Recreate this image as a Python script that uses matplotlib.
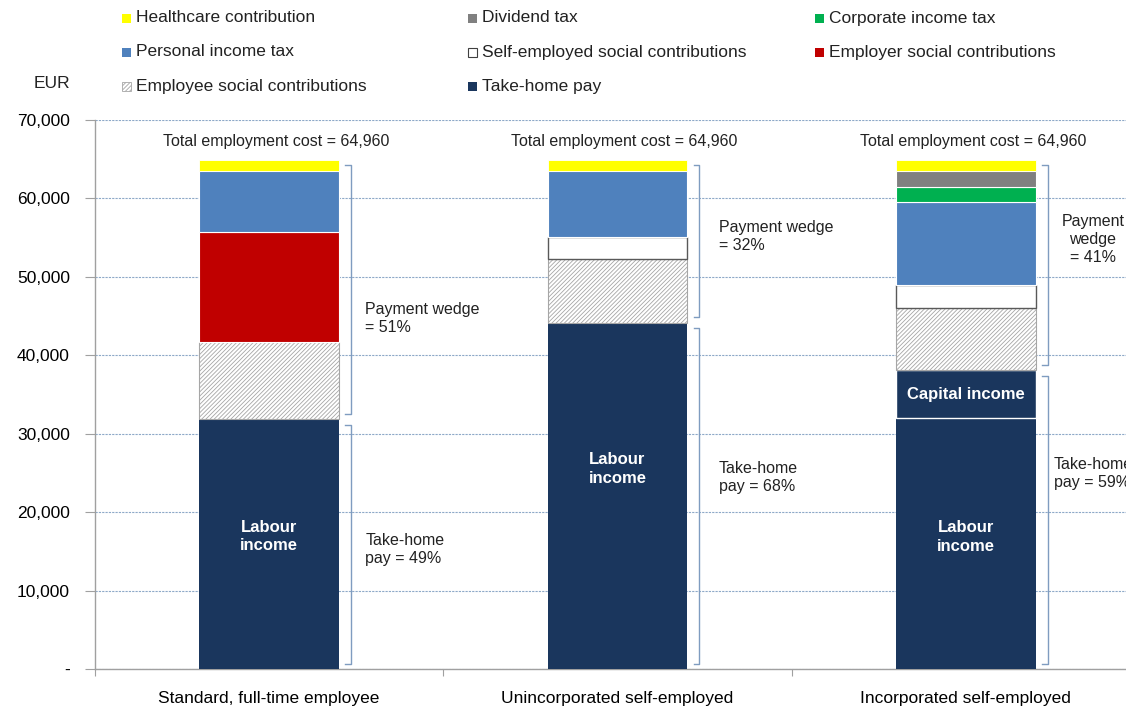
import matplotlib
matplotlib.use("Agg")
import matplotlib.pyplot as plt
from matplotlib.patches import Rectangle
import numpy as np

plt.rcParams['font.family'] = ['Liberation Sans', 'DejaVu Sans']
plt.rcParams['hatch.linewidth'] = 0.6

# ---------------------------------------------------------------- data (EUR)
categories = ["Standard, full-time employee",
              "Unincorporated self-employed",
              "Incorporated self-employed"]

labour_income = [31830, 44170, 32000]
capital_income = [0, 0, 6100]
employee_ssc = [9880, 8130, 7950]
self_employed_ssc = [0, 2800, 2930]
employer_ssc = [14030, 0, 0]
personal_income_tax = [7780, 8420, 10590]
corporate_income_tax = [0, 0, 1910]
dividend_tax = [0, 0, 2040]
healthcare = [1440, 1440, 1440]

yticks = [0, 10000, 20000, 30000, 40000, 50000, 60000, 70000]

# ---------------------------------------------------------------- styles
NAVY = "#1a365d"
BLUE = "#4f81bd"
RED = "#c00000"
GREEN = "#00b050"
GREY = "#808080"
YELLOW = "#ffff00"
HATCH_GREY = "#a6a6a6"
BRACKET = "#7f9cc0"
GRID = "#8ea9c8"

W_PX, H_PX, DPI = 1126, 710, 100
fig = plt.figure(figsize=(W_PX / DPI, H_PX / DPI), dpi=DPI)
ax = fig.add_axes([95 / W_PX, 41 / H_PX, 1045 / W_PX, 549 / H_PX])

x = np.arange(len(categories))
bw = 0.4

take_home = np.array(labour_income) + np.array(capital_income)

# stacked segments, bottom to top
segments = [
    (labour_income, dict(color=NAVY, edgecolor="none")),
    (capital_income, dict(color=NAVY, edgecolor="white", linewidth=1.0)),
    (employee_ssc, dict(color="white", edgecolor=HATCH_GREY, hatch="/" * 8, linewidth=0.8)),
    (self_employed_ssc, dict(color="white", edgecolor="#595959", linewidth=1.0)),
    (employer_ssc, dict(color=RED, edgecolor="white", linewidth=0.8)),
    (personal_income_tax, dict(color=BLUE, edgecolor="white", linewidth=0.8)),
    (corporate_income_tax, dict(color=GREEN, edgecolor="white", linewidth=0.8)),
    (dividend_tax, dict(color=GREY, edgecolor="white", linewidth=0.8)),
    (healthcare, dict(color=YELLOW, edgecolor="white", linewidth=0.6)),
]

bottom = np.zeros(len(categories))
for vals, kw in segments:
    v = np.array(vals, dtype=float)
    mask = v > 0
    ax.bar(x[mask], v[mask], bw, bottom=bottom[mask], zorder=3, **kw)
    bottom = bottom + v
totals = bottom

# axes styling
ax.set_xlim(-0.5, 2.5)
ax.set_ylim(0, 70000)
ax.set_yticks(yticks)
ax.set_yticklabels(["-" if t == 0 else f"{t:,}" for t in yticks])
ax.grid(axis="y", color=GRID, linestyle=(0, (2, 1)), linewidth=0.8, zorder=0)
ax.set_axisbelow(True)
for s in ("top", "right"):
    ax.spines[s].set_visible(False)
for s in ("left", "bottom"):
    ax.spines[s].set_color("#a0a0a0")
    ax.spines[s].set_linewidth(1.0)
ax.tick_params(axis="y", length=7, width=0.8, color="#a0a0a0", pad=11, labelsize=12.5)
ax.set_xticks(x)
ax.set_xticklabels(categories)
ax.set_xticks([-0.5, 0.5, 1.5, 2.5], minor=True)
ax.tick_params(axis="x", which="major", length=0, pad=16, labelsize=12.5)
ax.tick_params(axis="x", which="minor", length=5, width=0.8, color="#a0a0a0")

# total cost labels
for xi, tot in zip(x, totals):
    ax.text(xi + 0.02, tot + 1300, f"Total employment cost = {tot:,.0f}",
            ha="center", va="bottom", fontsize=11.5, color="#222222")

# brackets
gap = 700
bx = bw / 2 + 0.035
tick = 0.016


def bracket(xc, y0, y1):
    ax.plot([xc - tick, xc, xc, xc - tick], [y0, y0, y1, y1],
            color=BRACKET, linewidth=1.0, zorder=4, clip_on=False)


for xi, th, tot in zip(x, take_home, totals):
    bracket(xi + bx, th + gap, tot - gap)
    bracket(xi + bx, gap, th - gap)

wedge_pct = [round(100 * (1 - th / tot)) for th, tot in zip(take_home, totals)]
take_pct = [round(100 * th / tot) for th, tot in zip(take_home, totals)]

txt = dict(fontsize=11.5, color="#222222", va="center", linespacing=1.25)
ax.text(0.276, 44700, f"Payment wedge\n= {wedge_pct[0]}%", ha="left", **txt)
ax.text(0.276, 15200, f"Take-home\npay = {take_pct[0]}%", ha="left", **txt)
ax.text(1.29, 55100, f"Payment wedge\n= {wedge_pct[1]}%", ha="left", **txt)
ax.text(1.29, 24400, f"Take-home\npay = {take_pct[1]}%", ha="left", **txt)
ax.text(2.365, 54700, f"Payment\nwedge\n= {wedge_pct[2]}%", ha="center", **txt)
ax.text(2.253, 24900, f"Take-home\npay = {take_pct[2]}%", ha="left", **txt)

# labels inside the bars
inner = dict(ha="center", va="center", color="white", fontsize=12,
             fontweight="bold", linespacing=1.3, zorder=5)
ax.text(0, 16900, "Labour\nincome", **inner)
ax.text(1, 25500, "Labour\nincome", **inner)
ax.text(2, 16800, "Labour\nincome", **inner)
ax.text(2, labour_income[2] + capital_income[2] / 2, "Capital income", **inner)

# legend laid out in three columns
legend_items = [
    ("Healthcare contribution", dict(facecolor=YELLOW, edgecolor="none")),
    ("Dividend tax", dict(facecolor=GREY, edgecolor="none")),
    ("Corporate income tax", dict(facecolor=GREEN, edgecolor="none")),
    ("Personal income tax", dict(facecolor=BLUE, edgecolor="none")),
    ("Self-employed social contributions", dict(facecolor="white", edgecolor="#404040", linewidth=0.8)),
    ("Employer social contributions", dict(facecolor=RED, edgecolor="none")),
    ("Employee social contributions", dict(facecolor="white", edgecolor=HATCH_GREY, hatch="/" * 8, linewidth=0.6)),
    ("Take-home pay", dict(facecolor=NAVY, edgecolor="none")),
]
col_x = [122, 468, 815]
row_y = [18, 52, 86]
sq = 9
for i, (label, kw) in enumerate(legend_items):
    cx = col_x[i % 3]
    cy = row_y[i // 3]
    fig.add_artist(Rectangle(((cx) / W_PX, 1 - (cy + sq / 2) / H_PX),
                             sq / W_PX, sq / H_PX, transform=fig.transFigure, **kw))
    fig.text((cx + 14) / W_PX, 1 - cy / H_PX, label, ha="left", va="center",
             fontsize=12.5, color="#222222")

fig.text(70 / W_PX, 1 - 83 / H_PX, "EUR", ha="right", va="center", fontsize=12.5, color="#222222")

fig.savefig("out.png", dpi=DPI)
